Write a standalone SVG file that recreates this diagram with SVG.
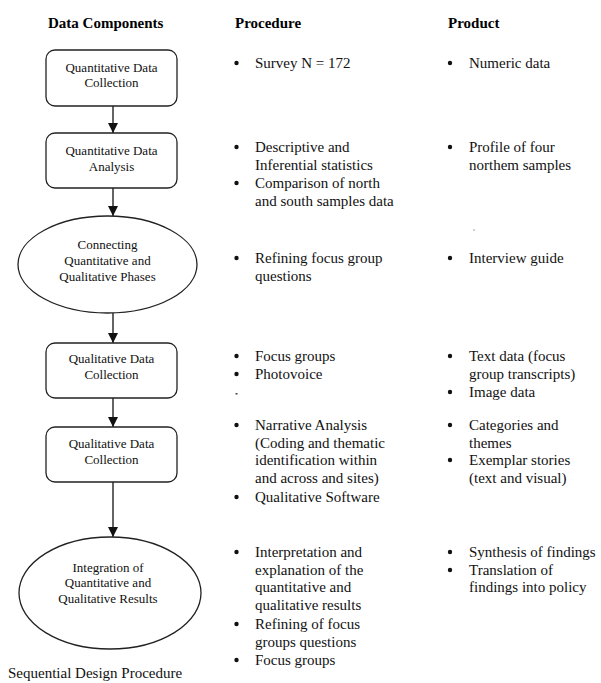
<svg xmlns="http://www.w3.org/2000/svg" width="601" height="683" viewBox="0 0 601 683">
<style>
  .hd { font-family: "Liberation Serif", "Times New Roman", serif; font-size: 15px; font-weight: bold; fill: #000; }
  .nd { font-family: "Liberation Serif", "Times New Roman", serif; font-size: 13px; fill: #111; text-anchor: middle; }
  .tx { font-family: "Liberation Serif", "Times New Roman", serif; font-size: 15px; fill: #111; }
  .b { fill: #111; }
  .shape { fill: #fff; stroke: #222; stroke-width: 1.3; }
  .conn { stroke: #111; stroke-width: 1.3; fill: none; }
</style>
<defs>
  <marker id="arr" viewBox="0 0 10 10" refX="10" refY="5" markerWidth="10" markerHeight="10" markerUnits="userSpaceOnUse" orient="auto">
    <path d="M0,0 L10,5 L0,10 Z" fill="#111"/>
  </marker>
</defs>
<rect width="601" height="683" fill="#fff"/>

<text class="hd" x="48" y="28">Data Components</text>
<text class="hd" x="235" y="28">Procedure</text>
<text class="hd" x="448" y="28">Product</text>

<g id="connectors">
  <line class="conn" x1="113" y1="106" x2="113" y2="133" marker-end="url(#arr)"/>
  <line class="conn" x1="113" y1="188" x2="113" y2="216" marker-end="url(#arr)"/>
  <line class="conn" x1="113" y1="313" x2="113" y2="343" marker-end="url(#arr)"/>
  <line class="conn" x1="113" y1="398" x2="113" y2="427" marker-end="url(#arr)"/>
  <line class="conn" x1="113" y1="482" x2="113" y2="537" marker-end="url(#arr)"/>
</g>

<g id="n1">
  <rect class="shape" x="46" y="50" width="131" height="56" rx="9"/>
  <text class="nd" x="111.5" y="72">Quantitative Data</text>
  <text class="nd" x="111.5" y="87">Collection</text>
</g>
<g id="n2">
  <rect class="shape" x="46" y="133" width="131" height="55" rx="9"/>
  <text class="nd" x="111.5" y="155">Quantitative Data</text>
  <text class="nd" x="111.5" y="171">Analysis</text>
</g>
<g id="n3">
  <ellipse class="shape" cx="107.5" cy="264.5" rx="89.5" ry="48.5"/>
  <text class="nd" x="107.5" y="249">Connecting</text>
  <text class="nd" x="107.5" y="265">Quantitative and</text>
  <text class="nd" x="107.5" y="281">Qualitative Phases</text>
</g>
<g id="n4">
  <rect class="shape" x="46" y="343" width="131" height="55" rx="9"/>
  <text class="nd" x="111.5" y="363">Qualitative Data</text>
  <text class="nd" x="111.5" y="379">Collection</text>
</g>
<g id="n5">
  <rect class="shape" x="46" y="427" width="131" height="55" rx="9"/>
  <text class="nd" x="111.5" y="448">Qualitative Data</text>
  <text class="nd" x="111.5" y="464">Collection</text>
</g>
<g id="n6">
  <ellipse class="shape" cx="110" cy="593" rx="91" ry="56"/>
  <text class="nd" x="108" y="572">Integration of</text>
  <text class="nd" x="108" y="587">Quantitative and</text>
  <text class="nd" x="108" y="603">Qualitative Results</text>
</g>

<g id="procedure">
  <circle class="b" cx="236.5" cy="63" r="2.2"/><text class="tx" x="255" y="68">Survey N = 172</text>

  <circle class="b" cx="236.5" cy="147" r="2.2"/><text class="tx" x="255" y="152">Descriptive and</text>
  <text class="tx" x="255" y="170">Inferential statistics</text>
  <circle class="b" cx="236.5" cy="183" r="2.2"/><text class="tx" x="255" y="188">Comparison of north</text>
  <text class="tx" x="255" y="206">and south samples data</text>

  <circle class="b" cx="236.5" cy="258" r="2.2"/><text class="tx" x="255" y="263">Refining focus group</text>
  <text class="tx" x="255" y="281">questions</text>

  <circle class="b" cx="236.5" cy="356" r="2.2"/><text class="tx" x="255" y="361">Focus groups</text>
  <circle class="b" cx="236.5" cy="374" r="2.2"/><text class="tx" x="255" y="379">Photovoice</text>
  <rect x="235.5" y="393" width="2" height="1.5" fill="#444"/>

  <circle class="b" cx="236.5" cy="425" r="2.2"/><text class="tx" x="255" y="430">Narrative Analysis</text>
  <text class="tx" x="255" y="448">(Coding and thematic</text>
  <text class="tx" x="255" y="465">identification within</text>
  <text class="tx" x="255" y="483">and across and sites)</text>
  <circle class="b" cx="236.5" cy="497" r="2.2"/><text class="tx" x="255" y="502">Qualitative Software</text>

  <circle class="b" cx="236.5" cy="552" r="2.2"/><text class="tx" x="255" y="557">Interpretation and</text>
  <text class="tx" x="255" y="575">explanation of the</text>
  <text class="tx" x="255" y="592">quantitative and</text>
  <text class="tx" x="255" y="610">qualitative results</text>
  <circle class="b" cx="236.5" cy="624" r="2.2"/><text class="tx" x="255" y="629">Refining of focus</text>
  <text class="tx" x="255" y="647">groups questions</text>
  <circle class="b" cx="236.5" cy="660" r="2.2"/><text class="tx" x="255" y="665">Focus groups</text>
</g>

<g id="product">
  <circle class="b" cx="450" cy="63" r="2.2"/><text class="tx" x="469" y="68">Numeric data</text>

  <circle class="b" cx="450" cy="147" r="2.2"/><text class="tx" x="469" y="152">Profile of four</text>
  <text class="tx" x="469" y="170">northem samples</text>

  <circle cx="474" cy="230" r="0.9" fill="#bbb"/>

  <circle class="b" cx="450" cy="258" r="2.2"/><text class="tx" x="469" y="263">Interview guide</text>

  <circle class="b" cx="450" cy="356" r="2.2"/><text class="tx" x="469" y="361">Text data (focus</text>
  <text class="tx" x="469" y="379">group transcripts)</text>
  <circle class="b" cx="450" cy="392" r="2.2"/><text class="tx" x="469" y="397">Image data</text>

  <circle class="b" cx="450" cy="425" r="2.2"/><text class="tx" x="469" y="430">Categories and</text>
  <text class="tx" x="469" y="448">themes</text>
  <circle class="b" cx="450" cy="460" r="2.2"/><text class="tx" x="469" y="465">Exemplar stories</text>
  <text class="tx" x="469" y="483">(text and visual)</text>

  <circle class="b" cx="450" cy="552" r="2.2"/><text class="tx" x="469" y="557">Synthesis of findings</text>
  <circle class="b" cx="450" cy="570" r="2.2"/><text class="tx" x="469" y="575">Translation of</text>
  <text class="tx" x="469" y="592">findings into policy</text>
</g>

<text class="tx" x="8" y="678">Sequential Design Procedure</text>
</svg>
